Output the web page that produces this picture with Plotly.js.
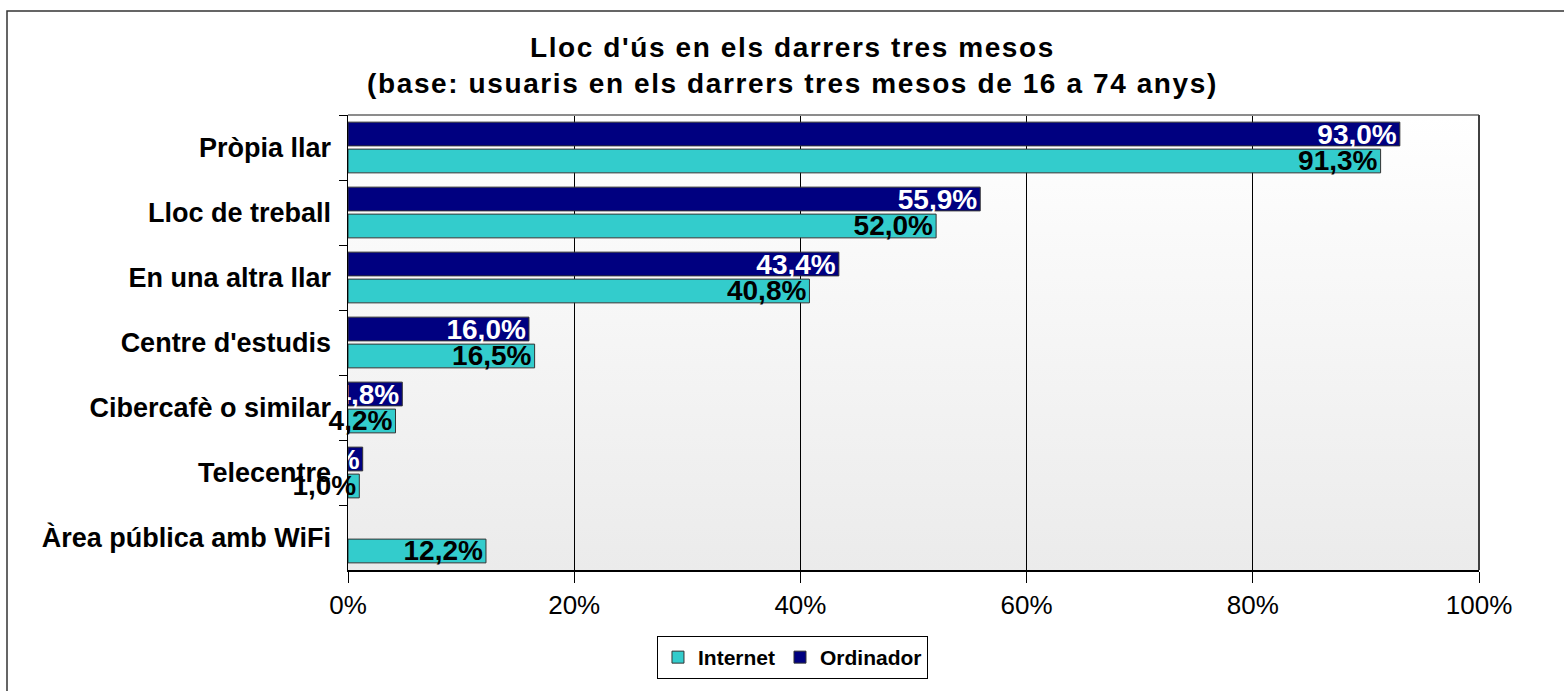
<!DOCTYPE html>
<html>
<head>
<meta charset="utf-8">
<script src="https://cdn.plot.ly/plotly-3.0.1.min.js"></script>
<style>
html,body{margin:0;padding:0;background:#fff;}
#chart{width:1564px;height:691px;}
#chart .gtitle{letter-spacing:1.6px;}
</style>
</head>
<body>
<div id="chart"></div>
<script>
const categories = ["Pròpia llar", "Lloc de treball", "En una altra llar", "Centre d'estudis", "Cibercafè o similar", "Telecentre", "Àrea pública amb WiFi"];
const ordinadorValues = [93.0, 55.9, 43.4, 16.0, 4.8, 1.3, null];
const internetValues = [91.3, 52.0, 40.8, 16.5, 4.2, 1.0, 12.2];
const xTickValues = [0, 20, 40, 60, 80, 100];
const xTickLabels = ["0%", "20%", "40%", "60%", "80%", "100%"];
const titleLines = ["Lloc d'ús en els darrers tres mesos", "(base: usuaris en els darrers tres mesos de 16 a 74 anys)"];

const FONT = "Liberation Sans, Arial, sans-serif";

const gradSvg = '<svg xmlns="http://www.w3.org/2000/svg" width="100" height="100" preserveAspectRatio="none"><defs><linearGradient id="g" x1="0" y1="0" x2="0" y2="1"><stop offset="0" stop-color="#ffffff"/><stop offset="1" stop-color="#ebebeb"/></linearGradient></defs><rect width="100" height="100" fill="url(#g)"/></svg>';
const gradUri = 'data:image/svg+xml;charset=utf-8,' + encodeURIComponent(gradSvg);

const traces = [
  {
    type: 'bar', orientation: 'h', name: 'Ordinador',
    y: categories, x: ordinadorValues,
    marker: {color: '#000080', line: {color: '#333333', width: 1}},
    texttemplate: '%{x:.1f}%', textposition: 'inside', insidetextanchor: 'end',
    constraintext: 'none', textangle: 0, cliponaxis: false,
    insidetextfont: {family: FONT, size: 28, color: '#ffffff', weight: 'bold'},
    legendrank: 2, hoverinfo: 'x+y'
  },
  {
    type: 'bar', orientation: 'h', name: 'Internet',
    y: categories, x: internetValues,
    marker: {color: '#33CCCC', line: {color: '#333333', width: 1}},
    texttemplate: '%{x:.1f}%', textposition: 'inside', insidetextanchor: 'end',
    constraintext: 'none', textangle: 0, cliponaxis: false,
    insidetextfont: {family: FONT, size: 28, color: '#000000', weight: 'bold'},
    legendrank: 1, hoverinfo: 'x+y'
  }
];

const layout = {
  width: 1564, height: 691, autosize: false,
  margin: {l: 348, r: 85, t: 115, b: 121, pad: 0, autoexpand: false},
  paper_bgcolor: '#ffffff', plot_bgcolor: '#ffffff',
  separators: ',.',
  font: {family: FONT, color: '#000000'},
  barmode: 'group', bargap: 0.17, bargroupgap: 0.12,
  title: {
    text: titleLines.join('<br>'),
    font: {family: FONT, size: 28, color: '#000000', weight: 'bold'},
    xref: 'paper', x: 0.393, xanchor: 'center',
    yref: 'container', y: 0.918, yanchor: 'top'
  },
  xaxis: {
    range: [0, 100], tickvals: xTickValues, ticktext: xTickLabels,
    showgrid: true, gridcolor: '#000000', gridwidth: 1,
    zeroline: false, showline: true, linecolor: '#000000', linewidth: 1.5,
    ticks: 'outside', ticklen: 11, tickcolor: '#000000', tickwidth: 1,
    tickfont: {family: FONT, size: 26, color: '#000000'},
    automargin: false, fixedrange: true
  },
  yaxis: {
    type: 'category', autorange: 'reversed',
    showline: true, linecolor: '#000000', linewidth: 1.5,
    ticks: 'outside', ticklen: 8, tickcolor: '#000000', tickwidth: 1,
    tickson: 'boundaries', ticklabelstandoff: 10,
    tickfont: {family: FONT, size: 27, color: '#000000', weight: 'bold'},
    showgrid: false, automargin: false, fixedrange: true
  },
  images: [{
    source: gradUri, xref: 'paper', yref: 'paper', x: 0, y: 1, sizex: 1, sizey: 1,
    xanchor: 'left', yanchor: 'top', sizing: 'stretch', layer: 'below'
  }],
  shapes: [
    {type: 'line', xref: 'paper', yref: 'paper', x0: 0, x1: 1, y0: 1, y1: 1, line: {color: '#8c8c8c', width: 2}},
    {type: 'line', xref: 'paper', yref: 'paper', x0: 1, x1: 1, y0: 0, y1: 1, line: {color: '#404040', width: 2}},
    {type: 'rect', xref: 'paper', yref: 'paper', x0: -0.3015, x1: 2, y0: -1, y1: 1.2286, line: {color: '#333333', width: 1.5}, fillcolor: 'rgba(0,0,0,0)', layer: 'below'}
  ],
  showlegend: true,
  legend: {
    orientation: 'h', xref: 'paper', x: 0.393, xanchor: 'center',
    yref: 'paper', y: -0.145, yanchor: 'top',
    bordercolor: '#000000', borderwidth: 1, bgcolor: '#ffffff',
    font: {family: FONT, size: 21, color: '#000000', weight: 'bold'},
    traceorder: 'normal', itemwidth: 30
  }
};

Plotly.newPlot('chart', traces, layout, {displayModeBar: false, staticPlot: true});
</script>
</body>
</html>
